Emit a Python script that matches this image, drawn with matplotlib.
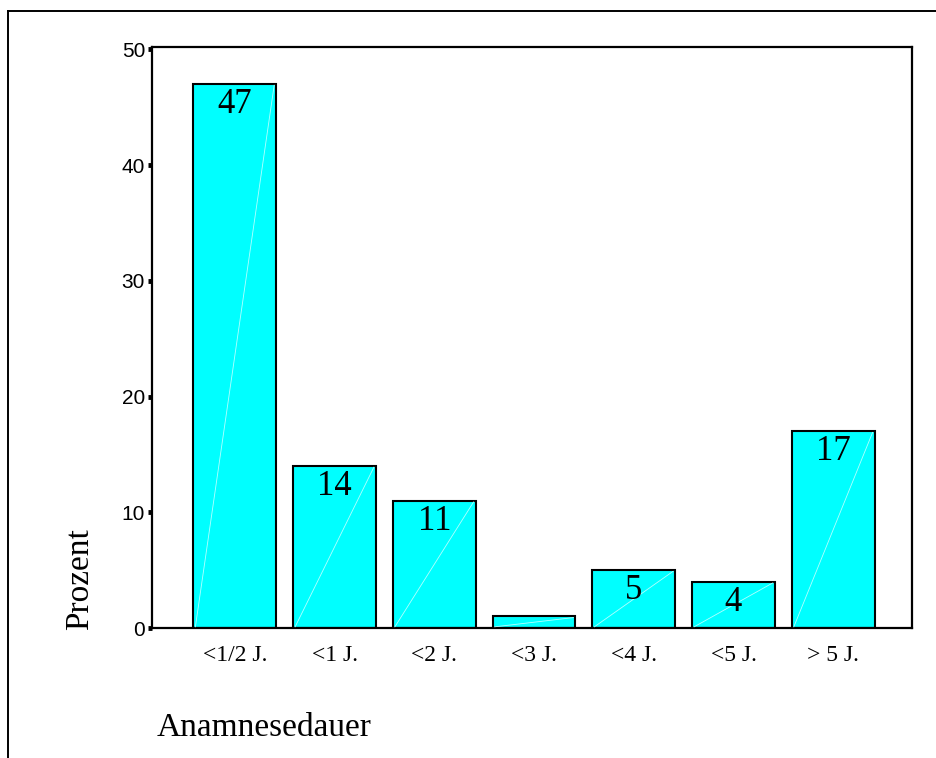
import matplotlib

matplotlib.use("Agg")
import matplotlib.pyplot as plt  # noqa: E402
from matplotlib.lines import Line2D  # noqa: E402

categories = ["<1/2 J.", "<1 J.", "<2 J.", "<3 J.", "<4 J.", "<5 J.", "> 5 J."]
percent = [47, 14, 11, 1, 5, 4, 17]
# the 1 % bar carries no label
bar_labels = ["47", "14", "11", "", "5", "4", "17"]
yticks = [0, 10, 20, 30, 40, 50]

SERIF = "Liberation Serif"
SANS = "Liberation Sans"
CYAN = "#00ffff"

fig = plt.figure(figsize=(9.36, 7.58), dpi=100)
W, H = 936, 758

# outer frame (only top and left edges fall inside the canvas)
fig.add_artist(Line2D([8 / W, 1.0], [1 - 11 / H, 1 - 11 / H], color="black",
                      lw=1.4, transform=fig.transFigure))
fig.add_artist(Line2D([8 / W, 8 / W], [0.0, 1 - 11 / H], color="black",
                      lw=1.4, transform=fig.transFigure))

ax = fig.add_axes([152 / W, 1 - 628 / H, (912 - 152) / W, (628 - 47) / H])
x = list(range(len(categories)))
bars = ax.bar(x, percent, width=0.83, color=CYAN, edgecolor="black", lw=1.5, zorder=2)

# faint diagonal seam across each bar
for b in bars:
    x0, w, h = b.get_x(), b.get_width(), b.get_height()
    ax.plot([x0 + 0.02, x0 + w - 0.02], [0.1, h - 0.1], color="#e0ffff",
            lw=0.6, alpha=0.8, zorder=3)

for b, lab in zip(bars, bar_labels):
    if lab:
        ax.annotate(lab, (b.get_x() + b.get_width() / 2, b.get_height()),
                    xytext=(0, -3), textcoords="offset points",
                    ha="center", va="top", fontsize=25, family=SERIF, zorder=4)

ax.set_xlim(-0.83, 6.79)
ax.set_ylim(0, 50.2)
ax.set_yticks(yticks)
ax.set_yticklabels([str(v) for v in yticks], family=SANS, fontsize=15)
ax.set_xticks(x)
ax.set_xticklabels(categories, family=SERIF, fontsize=17)
ax.tick_params(axis="y", direction="out", length=3, width=3.5, pad=2)
ax.tick_params(axis="x", length=0, pad=12)
for s in ax.spines.values():
    s.set_linewidth(1.6)

fig.text(80 / W, 1 - 579 / H, "Prozent", rotation=90, ha="center", va="center",
         fontsize=24, family=SERIF)
fig.text(157 / W, 1 - 728 / H, "Anamnesedauer", ha="left", va="center",
         fontsize=24, family=SERIF)

fig.savefig("out.png", dpi=100)
